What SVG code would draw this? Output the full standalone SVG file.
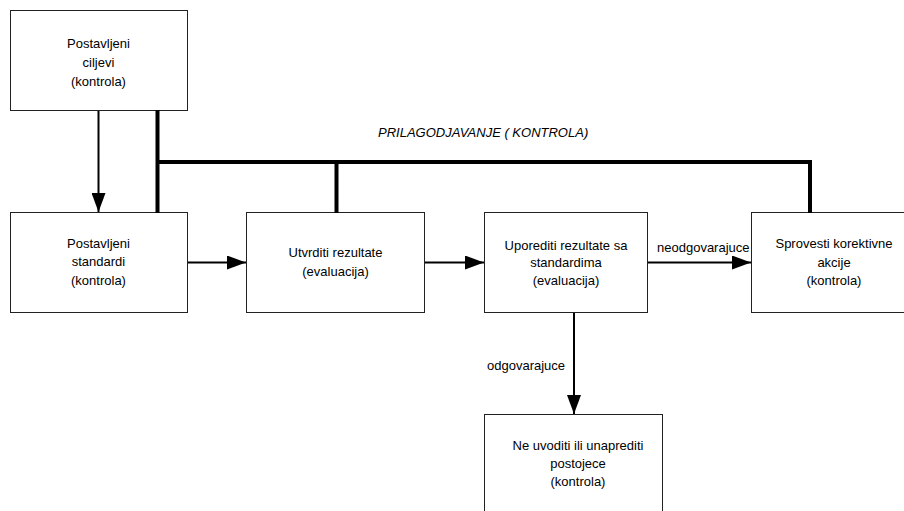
<svg xmlns="http://www.w3.org/2000/svg" width="904" height="511" viewBox="0 0 904 511">
<style>
.box{fill:#fff;stroke:#222;stroke-width:1}
.t{font-family:"Liberation Sans",Arial,sans-serif;font-size:13px;fill:#000;text-anchor:middle}
.lbl{font-family:"Liberation Sans",Arial,sans-serif;font-size:13px;fill:#000}
.thin{stroke:#000;stroke-width:2;fill:none}
.thick{stroke:#000;stroke-width:4;fill:none;stroke-linejoin:miter}
</style>
<defs>
<marker id="ah" viewBox="0 0 19 14" refX="19" refY="7" markerWidth="19" markerHeight="14" markerUnits="userSpaceOnUse" orient="auto">
<path d="M0,0 L19,7 L0,14 Z" fill="#000"/>
</marker>
</defs>
<rect width="904" height="511" fill="#fff"/>
<g id="n1"><rect class="box" x="10.5" y="10.5" width="177" height="100"/>
<text class="t" x="98.5" y="48">Postavljeni</text><text class="t" x="98.5" y="67">ciljevi</text><text class="t" x="98.5" y="86">(kontrola)</text></g>
<g id="n2"><rect class="box" x="10.5" y="212.5" width="177" height="100"/>
<text class="t" x="98.5" y="248">Postavljeni</text><text class="t" x="98.5" y="266">standardi</text><text class="t" x="98.5" y="285">(kontrola)</text></g>
<g id="n3"><rect class="box" x="246.5" y="212.5" width="178" height="100"/>
<text class="t" x="335.5" y="257">Utvrditi rezultate</text><text class="t" x="335.5" y="276">(evaluacija)</text></g>
<g id="n4"><rect class="box" x="484.5" y="212.5" width="163" height="100"/>
<text class="t" x="566" y="249.5">Uporediti rezultate sa</text><text class="t" x="566" y="267">standardima</text><text class="t" x="566" y="285">(evaluacija)</text></g>
<g id="n5"><rect class="box" x="751.5" y="212.5" width="164" height="100"/>
<text class="t" x="834" y="248">Sprovesti korektivne</text><text class="t" x="834" y="267">akcije</text><text class="t" x="834" y="285">(kontrola)</text></g>
<g id="n6"><rect class="box" x="484.5" y="414.5" width="178" height="110"/>
<text class="t" x="578" y="449.5">Ne uvoditi ili unaprediti</text><text class="t" x="578" y="468">postojece</text><text class="t" x="578" y="486">(kontrola)</text></g>
<g id="connectors">
<line class="thin" x1="98.5" y1="111" x2="98.5" y2="212" marker-end="url(#ah)"/>
<line class="thin" x1="188" y1="262.5" x2="246" y2="262.5" marker-end="url(#ah)"/>
<line class="thin" x1="425" y1="262.5" x2="484" y2="262.5" marker-end="url(#ah)"/>
<line class="thin" x1="648" y1="262.5" x2="751" y2="262.5" marker-end="url(#ah)"/>
<line class="thin" x1="574" y1="313" x2="574" y2="414" marker-end="url(#ah)"/>
<path class="thick" d="M157.5,110 V213 M157.5,162 H810 V213 M336.5,162 V213"/>
<text class="lbl" x="657" y="251.5">neodgovarajuce</text>
<text class="lbl" x="487" y="369.5">odgovarajuce</text>
<text class="lbl" x="378" y="137" font-style="italic">PRILAGODJAVANJE ( KONTROLA)</text>
</g>
</svg>
